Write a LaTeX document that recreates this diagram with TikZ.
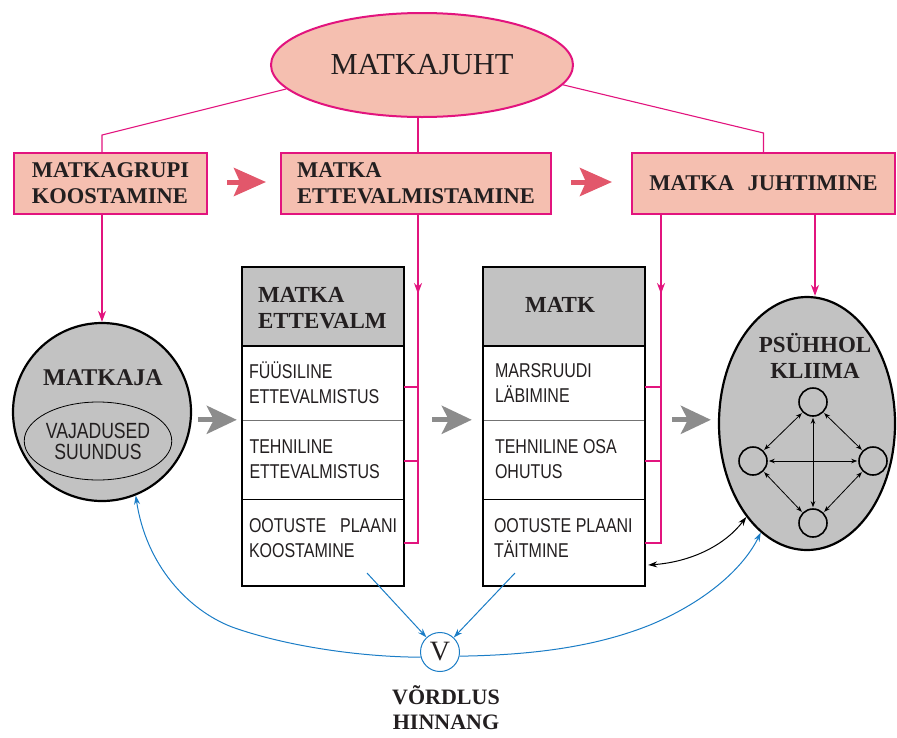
\documentclass[tikz,border=0pt]{standalone}
\usepackage{fontspec}
\setmainfont{Liberation Serif}
\newfontfamily\rowfont[FakeStretch=0.8]{Liberation Sans}
\usetikzlibrary{arrows.meta,shapes.geometric,calc}
\definecolor{salmon}{HTML}{F5BFB0}
\definecolor{mag}{HTML}{E2147E}
\definecolor{pinka}{HTML}{E2576B}
\definecolor{cellgray}{HTML}{C2C2C2}
\definecolor{arrgray}{HTML}{8C8C8C}
\definecolor{bluel}{HTML}{1B7DC6}
\definecolor{txt}{HTML}{231F20}
\tikzset{
  juhtst/.style={ellipse, draw=mag, fill=salmon, line width=2pt, minimum width=302pt, minimum height=104pt, inner sep=0pt, font=\fontsize{30.5}{31}\selectfont, text=txt},
  topbox/.style={rectangle, draw=mag, fill=salmon, line width=2pt, inner sep=0pt, align=left, minimum height=61pt, font=\fontsize{22.5}{26}\selectfont\bfseries, text=txt},
  thinmag/.style={draw=mag, line width=1.1pt},
  magline/.style={draw=mag, line width=2pt},
  magarr/.style={draw=mag, line width=2pt, -{Stealth[length=11pt,width=8pt]}},
  pinkarr/.style={draw=pinka, line width=5pt, -{Stealth[length=32pt,width=28pt,inset=6pt]}},
  grayarr/.style={draw=arrgray, line width=5pt, -{Stealth[length=30pt,width=28pt,inset=7pt]}},
  headcell/.style={rectangle, fill=cellgray, minimum width=162pt, minimum height=79pt, inner sep=0pt},
  rowcell/.style={rectangle, minimum width=162pt, inner sep=0pt},
  tabframe/.style={draw=black, line width=2.5pt},
  headtext/.style={inner sep=0pt, align=left, font=\fontsize{23}{26}\selectfont\bfseries, text=txt},
  rowtext/.style={inner sep=0pt, align=left, font=\rowfont\fontsize{20}{25}\selectfont, text=txt},
  bigtext/.style={inner sep=0pt, align=center, font=\fontsize{24}{26}\selectfont\bfseries, text=txt},
  graybody/.style={draw=black, fill=cellgray, line width=2.2pt, inner sep=0pt},
  smallc/.style={circle, draw=black, line width=1.6pt, minimum size=28pt, inner sep=0pt},
  smallarr/.style={draw=black, line width=0.8pt, {Stealth[length=6pt,width=4.5pt]}-{Stealth[length=6pt,width=4.5pt]}, shorten <=1pt, shorten >=1pt},
  bluearr/.style={draw=bluel, line width=1pt, -{Stealth[length=9pt,width=6pt]}},
  blackarr/.style={draw=black, line width=1pt, {Stealth[length=9pt,width=6pt]}-{Stealth[length=9pt,width=6pt]}},
  vcirc/.style={circle, draw=bluel, line width=1pt, minimum size=39pt, inner sep=0pt, font=\fontsize{28}{28}\selectfont, text=txt}
}
\begin{document}
\begin{tikzpicture}[x=1pt,y=-1pt]
\useasboundingbox (0,0) rectangle (897,737);

% top ellipse and boxes
\node[juhtst] (juht) at (422,65) {MATKAJUHT};
\node[topbox, minimum width=193pt] (b1) at (110.5,183.5) {MATKAGRUPI\\KOOSTAMINE};
\node[topbox, minimum width=270pt] (b2) at (416,183.5) {MATKA\\ETTEVALMISTAMINE};
\node[topbox, minimum width=263pt] (b3) at (763.5,183.5) {MATKA\hspace{0.6em}JUHTIMINE};

\draw[thinmag] (juht.190) -- ([xshift=-8.5pt,yshift=17pt]b1.north) -- ([xshift=-8.5pt]b1.north);
\draw[thinmag] ([xshift=2pt]b2.north |- juht.south) -- ([xshift=2pt]b2.north);
\draw[thinmag] (juht.-8) -- ([yshift=19pt]b3.north) -- (b3.north);

\draw[pinkarr] ([xshift=19pt,yshift=1.5pt]b1.east) -- ([xshift=-14pt,yshift=1.5pt]b2.west);
\draw[pinkarr] ([xshift=19pt,yshift=1.5pt]b2.east) -- ([xshift=-19pt,yshift=1.5pt]b3.west);

% MATKAJA
\node[graybody, circle, minimum size=178pt] (matkaja) at (102,412) {};
\node[bigtext] (matkajat) at (103,378) {MATKAJA};
\node[ellipse, draw=black, line width=0.8pt, minimum width=146pt, minimum height=78pt, inner sep=0pt, align=center, font=\rowfont\fontsize{22}{21}\selectfont, text=txt] (need) at (98,441) {VAJADUSED\\SUUNDUS};

% table 1
\node[headcell] (t1h) at (323,306.5) {};
\node[rowcell, minimum height=74pt] (t1a) at (323,383) {};
\node[rowcell, minimum height=79pt] (t1b) at (323,459.5) {};
\node[rowcell, minimum height=87pt] (t1c) at (323,542.5) {};
\draw[black, line width=2.5pt] (t1h.south west) -- (t1h.south east);
\draw[black!55, line width=1.2pt] (t1a.south west) -- (t1a.south east);
\draw[black, line width=1.2pt] (t1b.south west) -- (t1b.south east);
\draw[tabframe] (t1h.north west) rectangle (t1c.south east);
\node[headtext, anchor=west] (t1ht) at ([xshift=16pt,yshift=-1.5pt]t1h.west) {MATKA\\ETTEVALM};
\node[rowtext, anchor=west] (t1at) at ([xshift=7pt]t1a.west) {FÜÜSILINE\\ETTEVALMISTUS};
\node[rowtext, anchor=west] (t1bt) at ([xshift=7.5pt]t1b.west) {TEHNILINE\\ETTEVALMISTUS};
\node[rowtext, anchor=west] (t1ct) at ([xshift=7pt,yshift=4.5pt]t1c.west) {\makebox[148pt][s]{OOTUSTE PLAANI}\\KOOSTAMINE};

% table 2
\node[headcell] (t2h) at (564,306.5) {};
\node[rowcell, minimum height=74pt] (t2a) at (564,383) {};
\node[rowcell, minimum height=79pt] (t2b) at (564,459.5) {};
\node[rowcell, minimum height=87pt] (t2c) at (564,542.5) {};
\draw[black, line width=2.5pt] (t2h.south west) -- (t2h.south east);
\draw[black!55, line width=1.2pt] (t2a.south west) -- (t2a.south east);
\draw[black, line width=1.2pt] (t2b.south west) -- (t2b.south east);
\draw[tabframe] (t2h.north west) rectangle (t2c.south east);
\node[headtext] (t2ht) at ([xshift=-4pt,yshift=2pt]t2h.center) {MATK};
\node[rowtext, anchor=west] (t2at) at ([xshift=12pt]t2a.west) {MARSRUUDI\\LÄBIMINE};
\node[rowtext, anchor=west] (t2bt) at ([xshift=12pt]t2b.west) {TEHNILINE OSA\\OHUTUS};
\node[rowtext, anchor=west] (t2ct) at ([xshift=11pt,yshift=4.5pt]t2c.west) {OOTUSTE PLAANI\\TÄITMINE};

% magenta connectors to tables
\draw[magline] ([xshift=2pt]b2.south) -- ([xshift=2pt]b2.south |- t1c.east) -- (t1c.east);
\draw[magarr] ([xshift=2pt]b2.south) -- ++(0,79);
\draw[magline] ([yshift=-4pt]t1a.east) -- ([xshift=2pt,yshift=-4pt]b2.south |- t1a.east);
\draw[magline] ([yshift=-1.5pt]t1b.east) -- ([xshift=2pt,yshift=-1.5pt]b2.south |- t1b.east);

\draw[magline] ([xshift=-102.5pt]b3.south) -- ([xshift=-102.5pt]b3.south |- t2c.east) -- (t2c.east);
\draw[magarr] ([xshift=-102.5pt]b3.south) -- ++(0,79);
\draw[magline] ([yshift=-4pt]t2a.east) -- ([xshift=-102.5pt,yshift=-4pt]b3.south |- t2a.east);
\draw[magline] ([yshift=-1.5pt]t2b.east) -- ([xshift=-102.5pt,yshift=-1.5pt]b3.south |- t2b.east);

% psych ellipse
\node[graybody, ellipse, minimum width=176pt, minimum height=253pt] (psy) at (807,423.5) {};
\node[bigtext, font=\fontsize{23}{26}\selectfont\bfseries] (psyt) at (815,356) {PSÜHHOL\\KLIIMA};
\node[smallc] (s1) at (813,402) {};
\node[smallc] (s2) at (753,461) {};
\node[smallc] (s3) at (873,461) {};
\node[smallc] (s4) at (813,523) {};
\draw[smallarr] (s1.south west) -- (s2.north east);
\draw[smallarr] (s1.south east) -- (s3.north west);
\draw[smallarr] (s2.east) -- (s3.west);
\draw[smallarr] (s1.south) -- (s4.north);
\draw[smallarr] (s2.south east) -- (s4.north west);
\draw[smallarr] (s3.south west) -- (s4.north east);

\draw[magarr] ([xshift=-8.5pt]b1.south) -- (matkaja.north);
\draw[magarr] ([xshift=51.5pt]b3.south) -- ([xshift=51.5pt]b3.south |- psy.north);

% gray arrows
\draw[grayarr] ([xshift=6pt]matkaja.east |- t1b.north) -- ([xshift=-5pt]t1b.north west);
\draw[grayarr] ([xshift=28pt]t1b.north east) -- ([xshift=-11pt]t2b.north west);
\draw[grayarr] ([xshift=27pt]t2b.north east) -- ([xshift=-7pt]psy.west |- t2b.north);

% V and comparison
\node[vcirc] (V) at (440,652) {V};
\node[inner sep=0pt, anchor=south, align=center, font=\fontsize{22}{25}\selectfont\bfseries, text=txt] (lbl) at (446,730) {VÕRDLUS\\HINNANG};
\draw[bluearr] ([xshift=44pt,yshift=-30.5pt]t1c.center) -- (V);
\draw[bluearr] ([xshift=-49pt,yshift=-30.5pt]t2c.center) -- (V);
\draw[bluearr] (V.195) .. controls (360,657) and (285,646) .. (232,627) .. controls (188,610) and (146,565) .. (matkaja.-68);
\draw[bluearr] (V.-12) .. controls (540,655) and (600,645) .. (650,625) .. controls (710,600) and (745,565) .. (psy.247);
\draw[blackarr] ([xshift=3pt,yshift=-22.5pt]t2c.east) .. controls +(42,-3) and +(-22,29) .. (psy.237);
\end{tikzpicture}
\end{document}
